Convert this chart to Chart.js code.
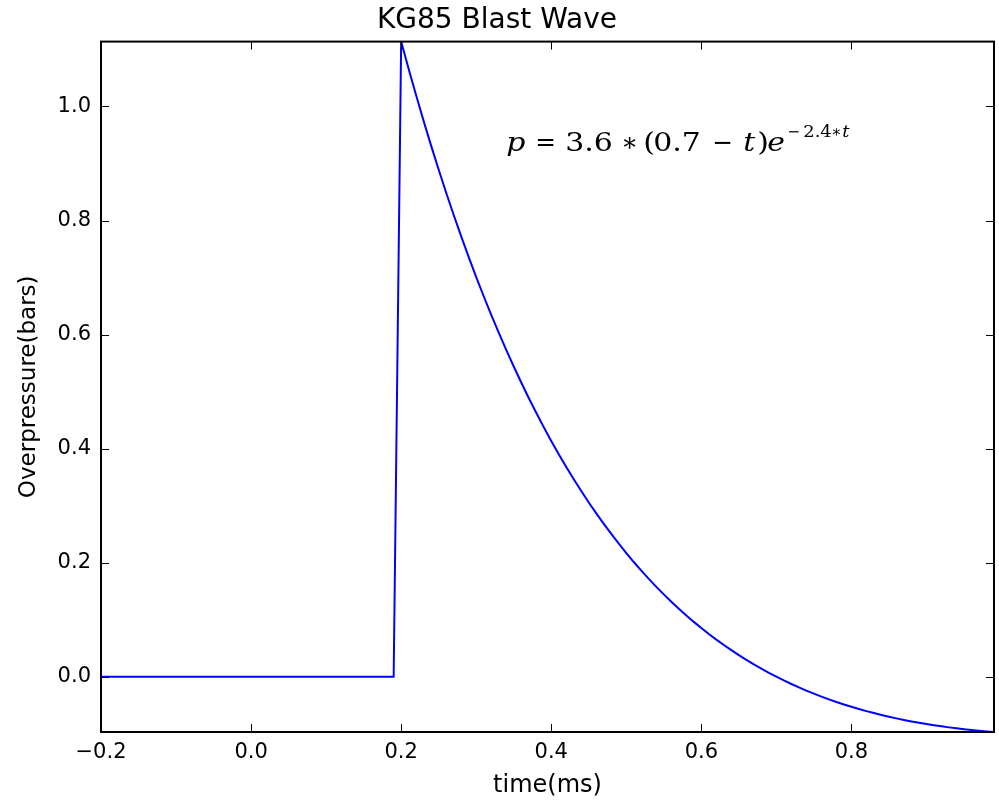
<!DOCTYPE html>
<html><head><meta charset="utf-8">
<script src="https://cdn.jsdelivr.net/npm/chart.js@4.4.0/dist/chart.umd.min.js"></script>
<style>html,body{margin:0;padding:0;background:#fff;} canvas{display:block;}</style>
</head><body>
<canvas id="c" width="999" height="801"></canvas>
<script>
// ---- data ----
const timeMs = [
  -0.20, 0.19,
  0.20, 0.21, 0.22, 0.23, 0.24, 0.25, 0.26, 0.27, 0.28, 0.29,
  0.30, 0.31, 0.32, 0.33, 0.34, 0.35, 0.36, 0.37, 0.38, 0.39,
  0.40, 0.41, 0.42, 0.43, 0.44, 0.45, 0.46, 0.47, 0.48, 0.49,
  0.50, 0.51, 0.52, 0.53, 0.54, 0.55, 0.56, 0.57, 0.58, 0.59,
  0.60, 0.61, 0.62, 0.63, 0.64, 0.65, 0.66, 0.67, 0.68, 0.69,
  0.70, 0.71, 0.72, 0.73, 0.74, 0.75, 0.76, 0.77, 0.78, 0.79,
  0.80, 0.81, 0.82, 0.83, 0.84, 0.85, 0.86, 0.87, 0.88, 0.89,
  0.90, 0.91, 0.92, 0.93, 0.94, 0.95, 0.96, 0.97, 0.98, 0.99
];
const overpressure = [
  0, 0,
  1.1138, 1.0656, 1.0192, 0.9743, 0.9309, 0.8891, 0.8487, 0.8097, 0.7722, 0.7359,
  0.7009, 0.6672, 0.6347, 0.6033, 0.5731, 0.5440, 0.5159, 0.4888, 0.4628, 0.4377,
  0.4135, 0.3903, 0.3679, 0.3463, 0.3256, 0.3056, 0.2864, 0.2680, 0.2503, 0.2332,
  0.2169, 0.2011, 0.1860, 0.1715, 0.1576, 0.1443, 0.1314, 0.1192, 0.1074, 0.0961,
  0.0853, 0.0749, 0.0650, 0.0556, 0.0465, 0.0378, 0.0295, 0.0216, 0.0141, 0.0069,
  0, -0.0066, -0.0128, -0.0187, -0.0244, -0.0298, -0.0349, -0.0397, -0.0443, -0.0487,
  -0.0528, -0.0567, -0.0604, -0.0638, -0.0671, -0.0702, -0.0731, -0.0759, -0.0784, -0.0808,
  -0.0830, -0.0851, -0.0871, -0.0889, -0.0905, -0.0921, -0.0935, -0.0948, -0.0959, -0.0970
];
const xTicks = [-0.2, 0.0, 0.2, 0.4, 0.6, 0.8];
const yTicks = [0.0, 0.2, 0.4, 0.6, 0.8, 1.0];
const xRange = [-0.2, 0.99];
const yRange = [-0.097, 1.1138];
const chartTitle = 'KG85 Blast Wave';
const xLabel = 'time(ms)';
const yLabel = 'Overpressure(bars)';
const formulaAt = [0.34, 0.922];
// formula pieces: [text, italic, superscript]
const formula = [
  ['p', true, false], ['=', false, false], ['3.6', false, false], ['\u2217', false, false],
  ['(', false, false], ['0.7', false, false], ['\u2212', false, false], ['t', true, false],
  [')', false, false], ['e', true, false],
  ['\u2212', false, true], ['2.4', false, true], ['\u2217', false, true], ['t', true, true]
];
// horizontal placement (px from formula start) for each piece — typesetting style
const formulaOffsets = [0, 29, 59, 115, 137, 147, 206, 237, 251, 261, 281, 297, 325, 336];
const operatorGlyphs = ['=', '\u2212', '\u2217'];

const FONT = 'DejaVu Sans';
const MATH = 'DejaVu Serif';
const fmt = v => (v < 0 ? '\u2212' : '') + Math.abs(v).toFixed(1);

const framePlugin = {
  id: 'frame',
  afterDatasetsDraw(chart) {
    const {ctx, chartArea: a, scales: {x, y}} = chart;
    ctx.save();
    ctx.strokeStyle = '#000';
    ctx.lineWidth = 1;
    ctx.beginPath();
    xTicks.forEach(v => {
      const px = Math.round(x.getPixelForValue(v)) + 0.5;
      ctx.moveTo(px, a.bottom); ctx.lineTo(px, a.bottom - 8);
      ctx.moveTo(px, a.top); ctx.lineTo(px, a.top + 8);
    });
    yTicks.forEach(v => {
      const py = Math.round(y.getPixelForValue(v)) + 0.5;
      ctx.moveTo(a.left, py); ctx.lineTo(a.left + 8, py);
      ctx.moveTo(a.right, py); ctx.lineTo(a.right - 8, py);
    });
    ctx.stroke();
    ctx.lineWidth = 2;
    ctx.strokeRect(a.left, a.top, a.right - a.left, a.bottom - a.top);

    // formula annotation
    const fx = x.getPixelForValue(formulaAt[0]);
    const fy = y.getPixelForValue(formulaAt[1]);
    ctx.fillStyle = '#000';
    ctx.textBaseline = 'alphabetic';
    ctx.textAlign = 'left';
    formula.forEach(([t, it, sup], i) => {
      const size = sup ? 16 : 26;
      ctx.font = (it ? 'italic ' : '') + size + 'px "' + MATH + '"';
      const isOp = operatorGlyphs.includes(t);
      ctx.save();
      ctx.translate(fx + formulaOffsets[i], sup ? fy - 14 : fy);
      ctx.scale(isOp ? 0.95 : (sup ? 1.12 : 1.15), 1);
      ctx.fillText(t, 0, 0);
      ctx.restore();
    });
    ctx.restore();
  }
};

new Chart(document.getElementById('c'), {
  type: 'line',
  data: {
    datasets: [{
      data: timeMs.map((t, i) => ({x: t, y: overpressure[i]})),
      borderColor: '#0000ff',
      borderWidth: 2,
      pointRadius: 0,
      fill: false,
      tension: 0
    }]
  },
  options: {
    responsive: false,
    devicePixelRatio: 1,
    animation: false,
    layout: {padding: {left: 0, right: 5, top: 0, bottom: 0}},
    plugins: {
      legend: {display: false},
      tooltip: {enabled: false},
      title: {
        display: true, text: chartTitle, color: '#000',
        font: {family: FONT, size: 28, weight: 'normal'},
        padding: {top: 4, bottom: 4}
      }
    },
    scales: {
      x: {
        type: 'linear', min: xRange[0], max: xRange[1],
        grid: {display: false, drawTicks: false},
        border: {display: false},
        afterBuildTicks: s => { s.ticks = xTicks.map(v => ({value: v})); },
        afterFit: s => { s.height = 69; },
        ticks: {color: '#000', padding: 8, maxRotation: 0, font: {family: FONT, size: 21}, callback: v => fmt(v)},
        title: {display: true, text: xLabel, color: '#000', font: {family: FONT, size: 24}, padding: {top: 0, bottom: 1}}
      },
      y: {
        type: 'linear', min: yRange[0], max: yRange[1],
        grid: {display: false, drawTicks: false},
        border: {display: false},
        afterBuildTicks: s => { s.ticks = yTicks.map(v => ({value: v})); },
        afterFit: s => { s.width = 101; },
        ticks: {color: '#000', padding: 10, font: {family: FONT, size: 21}, callback: v => fmt(v)},
        title: {display: true, text: yLabel, color: '#000', font: {family: FONT, size: 23}, padding: {top: 15, bottom: 0}}
      }
    }
  },
  plugins: [framePlugin]
});
</script>
</body></html>
